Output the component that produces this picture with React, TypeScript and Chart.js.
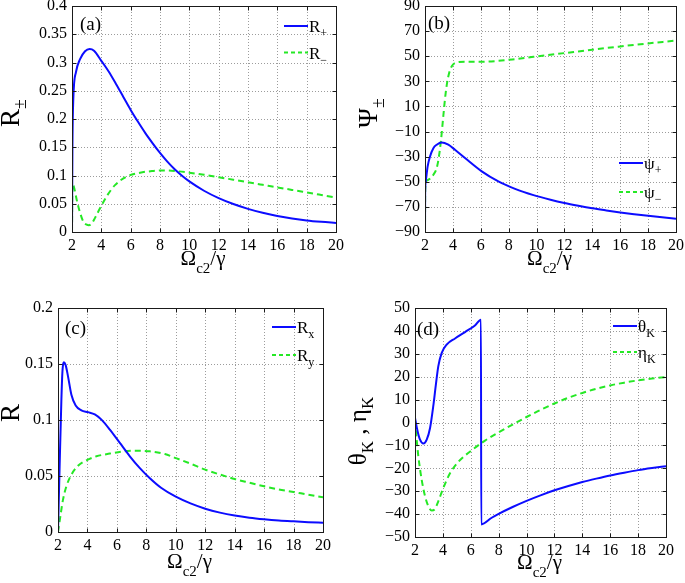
import React, { useEffect, useRef } from 'react';
import { Chart, registerables } from 'chart.js';

Chart.register(...registerables);

const FONT = "'Liberation Serif', 'Times New Roman', serif";
const BLUE = '#0c0cff';
const GREEN = '#25e825';

// shared x ticks (Ω_c2/γ)
const xTicks = [2, 4, 6, 8, 10, 12, 14, 16, 18, 20];

// panel (a): R+ / R-
const aYTicks = [0, 0.05, 0.1, 0.15, 0.2, 0.25, 0.3, 0.35, 0.4];
const aPlusX = [2, 2.03, 2.09, 2.27, 2.55, 2.89, 3.2, 3.5, 4, 4.5, 5, 5.5, 6, 6.5, 7, 7.5, 8, 8.5, 9, 9.5, 10, 11, 12, 13, 14, 15, 16, 17, 18, 19, 20];
const aPlusY = [0, 0.15, 0.236, 0.283, 0.306, 0.32, 0.324, 0.321, 0.303, 0.284, 0.262, 0.239, 0.216, 0.195, 0.175, 0.157, 0.14, 0.1245, 0.111, 0.0995, 0.0895, 0.073, 0.06, 0.0495, 0.041, 0.034, 0.0285, 0.024, 0.0205, 0.018, 0.016];
const aMinusX = [2, 2.02, 2.05, 2.15, 2.32, 2.55, 2.78, 3.0, 3.15, 3.35, 3.57, 3.91, 4.36, 4.93, 5.73, 6.64, 7.55, 8.2, 9, 10, 11, 12, 13, 14, 15, 16, 17, 18, 19, 20];
const aMinusY = [0, 0.07, 0.085, 0.078, 0.057, 0.034, 0.018, 0.013, 0.012, 0.015, 0.025, 0.042, 0.063, 0.083, 0.098, 0.105, 0.108, 0.109, 0.108, 0.105, 0.1013, 0.097, 0.0925, 0.088, 0.0835, 0.079, 0.0745, 0.07, 0.0655, 0.061];

// panel (b): psi+ / psi-
const bYTicks = [-90, -70, -50, -30, -10, 10, 30, 50, 70, 90];
const bPlusX = [2, 2.01, 2.05, 2.19, 2.36, 2.6, 2.84, 3.2, 3.67, 4.15, 4.87, 6.07, 7.26, 8.46, 9.78, 11, 12, 13, 14, 15, 16, 17, 18, 19, 20];
const bPlusY = [-90, -60, -50, -37.8, -29.8, -23.2, -20.5, -18.7, -20.5, -24.5, -31.1, -41.7, -49.7, -55.6, -60.6, -64.3, -66.9, -69.1, -71.1, -72.8, -74.4, -75.8, -77.1, -78.3, -79.4];
const bMinusX = [2, 2.01, 2.05, 2.24, 2.6, 2.84, 3.0, 3.15, 3.31, 3.48, 3.67, 3.91, 4.27, 4.87, 6.07, 7.26, 8.46, 9.78, 12, 14, 16, 18, 20];
const bMinusY = [-90, -60, -50, -48.4, -44.4, -39, -29.8, -16.6, 2, 20.5, 33.8, 41.8, 45, 45.6, 45.6, 46.3, 47.7, 49.5, 52.5, 55.2, 57.8, 60.2, 62.5];

// panel (c): Rx / Ry
const cYTicks = [0, 0.05, 0.1, 0.15, 0.2];
const cRxX = [2, 2.11, 2.23, 2.3, 2.41, 2.52, 2.68, 2.91, 3.2, 3.59, 4.04, 4.5, 4.95, 5.52, 6.2, 6.88, 7.56, 8.24, 9, 10, 11, 12, 13, 14, 15, 16, 17, 18, 19, 20];
const cRxY = [0, 0.0586, 0.118, 0.143, 0.1515, 0.149, 0.139, 0.1226, 0.113, 0.1086, 0.107, 0.105, 0.1003, 0.0914, 0.0795, 0.0676, 0.057, 0.048, 0.0395, 0.0315, 0.0255, 0.0208, 0.0173, 0.0147, 0.0128, 0.0114, 0.0103, 0.0095, 0.0088, 0.0082];
const cRyX = [2, 2.16, 2.34, 2.57, 2.91, 3.36, 3.93, 4.61, 5.52, 6.43, 7.34, 8.24, 9.26, 10, 11, 12, 13, 14, 15, 16, 17, 18, 19, 20];
const cRyY = [0, 0.014, 0.0289, 0.0408, 0.0512, 0.0592, 0.064, 0.0676, 0.07, 0.072, 0.0726, 0.072, 0.0696, 0.066, 0.061, 0.0557, 0.0513, 0.0473, 0.044, 0.0408, 0.038, 0.0357, 0.0333, 0.031];

// panel (d): thetaK / etaK
const dYTicks = [-50, -40, -30, -20, -10, 0, 10, 20, 30, 40, 50];
const dThetaX = [2, 2.19, 2.36, 2.6, 2.84, 3.08, 3.31, 3.51, 3.67, 3.91, 4.27, 4.87, 5.59, 6.3, 6.73, 6.75, 7.5, 8, 9, 10, 11, 12, 13, 14, 15, 16, 17, 18, 19, 20];
const dThetaY = [2, -3.9, -7.5, -9.2, -7.5, -2.4, 7.1, 17.2, 24.5, 30.3, 34, 36.7, 39.5, 42.4, 44.9, -44.5, -41.6, -39.9, -36.9, -34.2, -31.8, -29.6, -27.7, -26, -24.5, -23.1, -21.9, -20.8, -19.9, -19.1];
const dEtaX = [2, 2.12, 2.24, 2.48, 2.72, 2.96, 3.2, 3.43, 3.67, 4.03, 4.51, 5.11, 5.5, 6.07, 7.02, 7.5, 8, 9, 10, 11, 12, 13, 14, 15, 16, 17, 18, 19, 20];
const dEtaY = [1, -7.5, -14.8, -25, -32.2, -36.6, -38.4, -37.8, -34.4, -28.6, -22.2, -17.2, -14.9, -12.1, -7.9, -6.1, -4.3, -0.9, 2.4, 5.5, 8.3, 10.8, 12.9, 14.7, 16.2, 17.4, 18.4, 19.2, 19.8];

type Seg = [string, number];
interface Series { x: number[]; y: number[]; color: string; dash: number[]; name: Seg[] }
interface Panel {
  area: [number, number, number, number];
  yMin: number; yMax: number; yTicks: number[];
  series: Series[];
  yTitle: Seg[]; yTitleSize: number; yTitleX: number; yTitleY: number;
  xTitleY: number;
  tag: string; tagX: number; tagY: number;
  legX: number; legY: number; legDy: number;
}

const X_TITLE: Seg[] = [['Ω', 0], ['c2', 1], ['/γ', 0]];

const panels: Panel[] = [
  {
    area: [72, 6, 336, 232], yMin: 0, yMax: 0.4, yTicks: aYTicks,
    series: [
      { x: aPlusX, y: aPlusY, color: BLUE, dash: [], name: [['R', 0], ['+', 1]] },
      { x: aMinusX, y: aMinusY, color: GREEN, dash: [6, 4], name: [['R', 0], ['−', 1]] },
    ],
    yTitle: [['R', 0], ['±', 1]], yTitleSize: 27, yTitleX: 19, yTitleY: 113, xTitleY: 265,
    tag: '(a)', tagX: 80, tagY: 30, legX: 284, legY: 26, legDy: 26.5,
  },
  {
    area: [425, 6, 676, 232], yMin: -90, yMax: 90, yTicks: bYTicks,
    series: [
      { x: bPlusX, y: bPlusY, color: BLUE, dash: [], name: [['ψ', 0], ['+', 1]] },
      { x: bMinusX, y: bMinusY, color: GREEN, dash: [6, 4], name: [['ψ', 0], ['−', 1]] },
    ],
    yTitle: [['Ψ', 0], ['±', 1]], yTitleSize: 27, yTitleX: 377, yTitleY: 113, xTitleY: 265,
    tag: '(b)', tagX: 428, tagY: 29, legX: 619, legY: 163, legDy: 29,
  },
  {
    area: [58, 308, 323, 532], yMin: 0, yMax: 0.2, yTicks: cYTicks,
    series: [
      { x: cRxX, y: cRxY, color: BLUE, dash: [], name: [['R', 0], ['x', 1]] },
      { x: cRyX, y: cRyY, color: GREEN, dash: [6, 4], name: [['R', 0], ['y', 1]] },
    ],
    yTitle: [['R', 0]], yTitleSize: 27, yTitleX: 19, yTitleY: 413, xTitleY: 568,
    tag: '(c)', tagX: 65, tagY: 334, legX: 272, legY: 327, legDy: 28,
  },
  {
    area: [415, 308, 666, 537], yMin: -50, yMax: 50, yTicks: dYTicks,
    series: [
      { x: dThetaX, y: dThetaY, color: BLUE, dash: [], name: [['θ', 0], ['K', 1]] },
      { x: dEtaX, y: dEtaY, color: GREEN, dash: [6, 4], name: [['η', 0], ['K', 1]] },
    ],
    yTitle: [['θ', 0], ['K', 1], [' , ', 0], ['η', 0], ['K', 1]], yTitleSize: 25, yTitleX: 366, yTitleY: 431, xTitleY: 569,
    tag: '(d)', tagX: 417, tagY: 335, legX: 613, legY: 326, legDy: 26,
  },
];

const W = 685, H = 583, YW = 50, XH = 30;

function fmt(v: number | string): string {
  const n = Number(Number(v).toFixed(4));
  return n < 0 ? '−' + Math.abs(n) : String(n);
}

function segsWidth(ctx: CanvasRenderingContext2D, segs: Seg[], size: number, sub: number) {
  let w = 0;
  for (const [t, s] of segs) {
    ctx.font = `${s ? sub : size}px ${FONT}`;
    w += ctx.measureText(t).width;
  }
  return w;
}

function drawSegs(ctx: CanvasRenderingContext2D, segs: Seg[], x: number, y: number, size: number, sub: number, subDy: number) {
  let cx = x;
  for (const [t, s] of segs) {
    ctx.font = `${s ? sub : size}px ${FONT}`;
    ctx.fillText(t, cx, s ? y + subDy : y);
    cx += ctx.measureText(t).width;
  }
}

const panelOf = new WeakMap<HTMLCanvasElement, Panel>();

const decorPlugin = {
  id: 'decor',
  beforeDatasetsDraw(chart: any) {
    // dotted grid
    const p = panelOf.get(chart.canvas);
    if (!p) return;
    const ctx: CanvasRenderingContext2D = chart.ctx;
    const { left, top, right, bottom } = chart.chartArea;
    const xs = chart.scales.x, ys = chart.scales.y;
    ctx.save();
    ctx.strokeStyle = '#9c9c9c';
    ctx.lineWidth = 1;
    ctx.setLineDash([1, 2]);
    ctx.beginPath();
    xs.ticks.forEach((tk: any) => {
      const px = Math.round(xs.getPixelForValue(tk.value)) + 0.5;
      ctx.moveTo(px, top); ctx.lineTo(px, bottom);
    });
    ys.ticks.forEach((tk: any) => {
      const py = Math.round(ys.getPixelForValue(tk.value)) + 0.5;
      ctx.moveTo(left, py); ctx.lineTo(right, py);
    });
    ctx.stroke();
    ctx.restore();
  },
  afterDraw(chart: any) {
    const p = panelOf.get(chart.canvas);
    if (!p) return;
    const ctx: CanvasRenderingContext2D = chart.ctx;
    const { left, top, right, bottom } = chart.chartArea;
    const xs = chart.scales.x, ys = chart.scales.y;
    ctx.save();
    ctx.setLineDash([]);
    ctx.strokeStyle = '#1a1a1a';
    ctx.lineWidth = 1;
    const l = Math.round(left) + 0.5, r = Math.round(right) + 0.5;
    const t = Math.round(top) + 0.5, b = Math.round(bottom) + 0.5;
    ctx.beginPath();
    xs.ticks.forEach((tk: any) => {
      const px = Math.round(xs.getPixelForValue(tk.value)) + 0.5;
      ctx.moveTo(px, b); ctx.lineTo(px, b - 4);
      ctx.moveTo(px, t); ctx.lineTo(px, t + 4);
    });
    ys.ticks.forEach((tk: any) => {
      const py = Math.round(ys.getPixelForValue(tk.value)) + 0.5;
      ctx.moveTo(l, py); ctx.lineTo(l + 4, py);
      ctx.moveTo(r, py); ctx.lineTo(r - 4, py);
    });
    ctx.stroke();
    ctx.strokeRect(l, t, r - l, b - t);

    ctx.fillStyle = '#000';
    ctx.textAlign = 'left';
    ctx.textBaseline = 'alphabetic';

    // x title
    const xw = segsWidth(ctx, X_TITLE, 21, 15);
    drawSegs(ctx, X_TITLE, (left + right) / 2 - xw / 2 - 1, p.xTitleY, 21, 15, 8);

    // y title (rotated)
    const ysz = p.yTitleSize, ysub = Math.round(ysz * 0.68);
    ctx.save();
    ctx.translate(p.yTitleX, p.yTitleY);
    ctx.rotate(-Math.PI / 2);
    const yw = segsWidth(ctx, p.yTitle, ysz, ysub);
    drawSegs(ctx, p.yTitle, -yw / 2, 0, ysz, ysub, 7);
    ctx.restore();

    // panel tag
    ctx.font = `19px ${FONT}`;
    ctx.fillText(p.tag, p.tagX, p.tagY);

    // legend
    p.series.forEach((s, i) => {
      const ly = p.legY + i * p.legDy;
      ctx.save();
      ctx.strokeStyle = s.color;
      ctx.lineWidth = 2;
      ctx.setLineDash(s.dash.length ? [4, 3] : []);
      ctx.beginPath();
      ctx.moveTo(p.legX, ly);
      ctx.lineTo(p.legX + 24, ly);
      ctx.stroke();
      ctx.restore();
      drawSegs(ctx, s.name, p.legX + 25, ly + 6, 17, 12, 5);
    });
    ctx.restore();
  },
};

function makeChart(canvas: HTMLCanvasElement, p: Panel) {
  panelOf.set(canvas, p);
  const [L, T, R, B] = p.area;
  const tickFont = { family: FONT, size: 16 };
  return new Chart(canvas, {
    type: 'line',
    data: {
      datasets: p.series.map((s) => ({
        data: s.x.map((x, i) => ({ x, y: s.y[i] })),
        borderColor: s.color,
        borderWidth: 2,
        borderDash: s.dash,
        pointRadius: 0,
        fill: false,
        cubicInterpolationMode: 'monotone' as const,
      })),
    },
    options: {
      responsive: false,
      animation: false,
      devicePixelRatio: 1,
      events: [],
      layout: { padding: { left: L - YW, top: T, right: W - R, bottom: H - B - XH } },
      plugins: { legend: { display: false }, tooltip: { enabled: false } },
      scales: {
        x: {
          type: 'linear',
          min: 2,
          max: 20,
          afterBuildTicks: (a: any) => { a.ticks = xTicks.map((v) => ({ value: v })); },
          afterFit: (s: any) => { s.height = XH; s.paddingLeft = 0; s.paddingRight = 0; },
          ticks: { font: tickFont, color: '#000', padding: 4, maxRotation: 0, autoSkip: false, callback: (v: any) => fmt(v) },
          grid: { display: false, drawTicks: false },
          border: { display: false },
        },
        y: {
          type: 'linear',
          min: p.yMin,
          max: p.yMax,
          afterBuildTicks: (a: any) => { a.ticks = p.yTicks.map((v) => ({ value: v })); },
          afterFit: (s: any) => { s.width = YW; s.paddingTop = 0; s.paddingBottom = 0; },
          ticks: { font: tickFont, color: '#000', padding: 5, autoSkip: false, callback: (v: any) => fmt(v) },
          grid: { display: false, drawTicks: false },
          border: { display: false },
        },
      },
    } as any,
    plugins: [decorPlugin],
  });
}

export default function App() {
  const r0 = useRef<HTMLCanvasElement>(null);
  const r1 = useRef<HTMLCanvasElement>(null);
  const r2 = useRef<HTMLCanvasElement>(null);
  const r3 = useRef<HTMLCanvasElement>(null);
  const refs = [r0, r1, r2, r3];
  useEffect(() => {
    const charts = panels.map((p, i) => makeChart(refs[i].current as HTMLCanvasElement, p));
    return () => charts.forEach((c) => c.destroy());
  }, []);
  return (
    <div style={{ position: 'fixed', left: 0, top: 0, width: W, height: H, background: '#fff', overflow: 'hidden' }}>
      {panels.map((_, i) => (
        <canvas key={i} ref={refs[i]} width={W} height={H} style={{ position: 'absolute', left: 0, top: 0, width: W, height: H }} />
      ))}
    </div>
  );
}
